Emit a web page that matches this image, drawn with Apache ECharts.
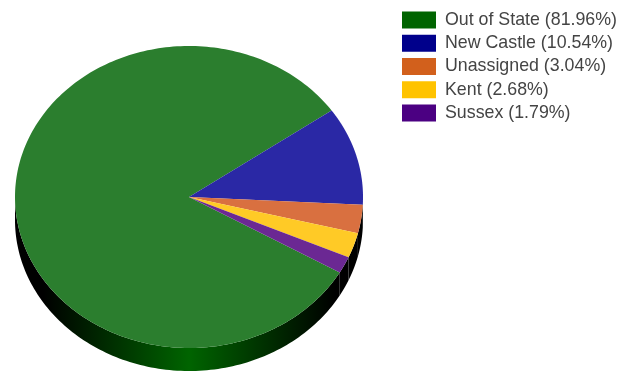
<!DOCTYPE html>
<html>
<head>
<meta charset="utf-8">
<style>html,body{margin:0;padding:0;background:#fff}#chart{width:622px;height:372px}</style>
<script src="https://cdn.jsdelivr.net/npm/echarts@6/dist/echarts.min.js"></script>
</head>
<body>
<div id="chart"></div>
<script>
// Share of records by county
const categories = ['Out of State', 'New Castle', 'Unassigned', 'Kent', 'Sussex'];
const shares = [81.96, 10.54, 3.04, 2.68, 1.79];
const baseColors = ['#006400', '#00008b', '#d2601c', '#ffc300', '#4b0082'];
const faceColors = ['#2b7e2e', '#2a28a5', '#d97040', '#ffca26', '#6b2893'];

// Ellipse geometry of the tilted disc
const disc = { cx: 189, cy: 197, rx: 174, ry: 151, depth: 23, startDeg: 30 };

const total = shares.reduce((a, b) => a + b, 0);
const starts = [];
shares.reduce((acc, v, i) => { starts[i] = acc; return acc + v; }, 0);

function rimPoint(deg, drop) {
  const t = deg * Math.PI / 180;
  return [disc.cx + disc.rx * Math.cos(t), disc.cy + disc.ry * Math.sin(t) + drop];
}

function sliceRender(index) {
  return function () {
    const from = disc.startDeg + starts[index] / total * 360;
    const to = from + shares[index] / total * 360;
    const arc = [];
    for (let k = 0; k <= 240; k++) arc.push(from + (to - from) * k / 240);

    // Rim wall: only the part of the arc on the near side of the disc
    const near = arc.filter(d => Math.sin(d * Math.PI / 180) >= 0);
    const wall = near.map(d => rimPoint(d, 0))
      .concat(near.slice().reverse().map(d => rimPoint(d, disc.depth)));

    const face = [[disc.cx, disc.cy]].concat(arc.map(d => rimPoint(d, 0)));
    const children = [];
    if (wall.length > 2) {
      children.push({
        type: 'polygon',
        z2: 1,
        shape: { points: wall },
        style: {
          fill: new echarts.graphic.LinearGradient(
            disc.cx - disc.rx, 0, disc.cx + disc.rx, 0,
            [
              { offset: 0, color: '#000' },
              { offset: 0.08, color: '#000' },
              { offset: 0.5, color: baseColors[index] },
              { offset: 0.92, color: '#000' },
              { offset: 1, color: '#000' }
            ],
            true
          )
        }
      });
    }
    children.push({
      type: 'polygon',
      z2: 10,
      shape: { points: face },
      style: { fill: faceColors[index] }
    });
    return { type: 'group', children };
  };
}

const chart = echarts.init(document.getElementById('chart'), null, { renderer: 'canvas' });
chart.setOption({
  animation: false,
  backgroundColor: '#fff',
  legend: {
    orient: 'vertical',
    left: 402,
    top: 11,
    itemWidth: 34,
    itemHeight: 17,
    itemGap: 5.25,
    selectedMode: false,
    icon: 'rect',
    padding: 0,
    data: categories.map((name, i) => ({
      name: name + ' (' + shares[i].toFixed(2) + '%)',
      itemStyle: { color: baseColors[i] }
    })),
    textStyle: {
      fontFamily: '"Liberation Sans", Arial, sans-serif',
      fontSize: 17.8,
      color: '#444',
      padding: [0, 0, 0, 4]
    }
  },
  series: categories.map((name, i) => ({
    type: 'custom',
    name: name + ' (' + shares[i].toFixed(2) + '%)',
    coordinateSystem: 'none',
    silent: true,
    itemStyle: { color: baseColors[i] },
    data: [shares[i]],
    renderItem: sliceRender(i)
  }))
});
</script>
</body>
</html>
